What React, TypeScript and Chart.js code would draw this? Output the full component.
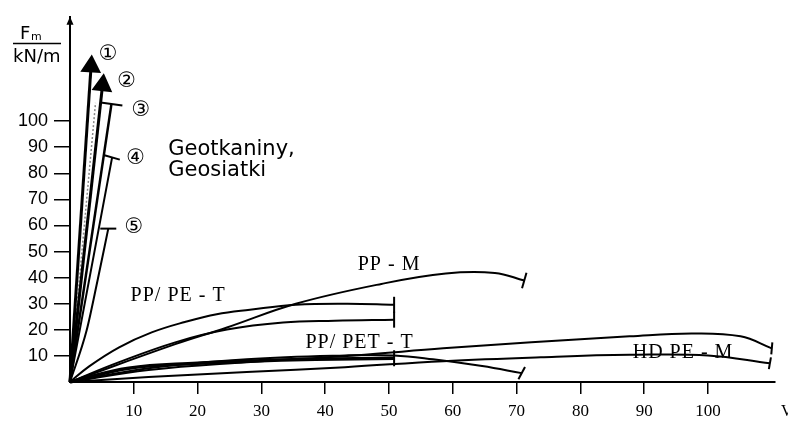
import React, { useEffect, useRef } from 'react';
import { Chart, registerables } from 'chart.js';

Chart.register(...registerables);

// ---- axis ticks ----
const xTickValues = [10, 20, 30, 40, 50, 60, 70, 80, 90, 100];
const yTickValues = [10, 20, 30, 40, 50, 60, 70, 80, 90, 100];
const X_MAX = 110.5;
const Y_MAX = 140;

// ---- geotextiles / geogrids (curves 1-5) ----
const geo1X = [0, 3.3];
const geo1Y = [0, 121];
const geo2X = [0, 5.1];
const geo2Y = [0, 113.8];
const geoDotX = [0, 4.0];
const geoDotY = [0, 107];
const geo3X = [0, 6.5];
const geo3Y = [0, 106.6];
const geo4X = [0, 6.6];
const geo4Y = [0, 86.1];
const geo5X = [0, 2.6, 4.3, 6.0];
const geo5Y = [0, 19.7, 38.7, 58.8];

// ---- PP/PE - T (two curves) ----
const ppPeTUpperX = [0, 3, 7.7, 12.8, 18, 23, 28.2, 35.4, 43.5, 50.8];
const ppPeTUpperY = [0, 6, 13.3, 19, 23, 26, 27.7, 29.6, 30, 29.6];
const ppPeTLowerX = [0, 7.7, 16.5, 24.6, 33.4, 41.5, 50.8];
const ppPeTLowerY = [0, 7.6, 15.2, 20.1, 22.8, 23.5, 23.9];

// ---- PP - M ----
const ppMX = [0, 16.5, 24.6, 35.4, 48.8, 58.9, 66.6, 71.2];
const ppMY = [0, 14.5, 20.9, 30, 37.6, 41.6, 41.8, 38.9];

// ---- PP/PET - T (two curves) ----
const ppPetT1X = [0, 9.2, 20, 27.7, 38.5, 50.8];
const ppPetT1Y = [0, 5.3, 7.2, 8, 8.7, 9.1];
const ppPetT2X = [0, 12.3, 27.7, 43.1, 50.8, 56.9, 64.6, 70.8];
const ppPetT2Y = [0, 5.3, 8.7, 10.2, 10.2, 8.7, 6.1, 3.4];

// ---- HD PE - M (two curves) ----
const hdpeUpperX = [0, 12.3, 27.7, 44.6, 58.5, 72.3, 87.7, 97.4, 105.1, 110];
const hdpeUpperY = [0, 4.6, 7.6, 10.2, 12.9, 15.2, 17.5, 18.6, 17.5, 12.9];
const hdpeLowerX = [0, 12.3, 27.7, 43.1, 58.5, 73.8, 87.7, 100, 109.7];
const hdpeLowerY = [0, 1.9, 3.8, 5.7, 8, 9.5, 10.4, 10.2, 7.2];

// ---- annotations ----
const circledLabels = ['①', '②', '③', '④', '⑤'];
const circledX = [6.0, 8.9, 11.1, 10.3, 10.0];
const circledY = [125.6, 115, 104.2, 85.7, 59.2];

const curveLabels = ['PP/ PE - T', 'PP - M', 'PP/ PET - T', 'HD PE - M'];
const curveLabelX = [9.5, 45.1, 36.9, 88.2];
const curveLabelY = [33, 44.8, 15.2, 11.4];

const groupLabels = ['Geotkaniny,', 'Geosiatki'];
const groupLabelX = [15.4, 15.4];
const groupLabelY = [89.2, 81.2];

const zip = (xs: number[], ys: number[]) => xs.map((x, i) => ({ x, y: ys[i] }));

type End = { style?: 'line' | 'triangle'; r?: number; rot?: number };

const series = (
  xs: number[],
  ys: number[],
  width: number,
  end: End,
  extra: any = {}
) => ({
  data: zip(xs, ys),
  borderColor: '#000',
  borderWidth: width,
  tension: xs.length > 2 ? 0.4 : 0,
  pointStyle: end.style || 'line',
  pointRotation: end.rot || 0,
  pointRadius: xs.map((_, i) => (i === xs.length - 1 && end.r ? end.r : 0)),
  pointBorderWidth: 2,
  pointBorderColor: '#000',
  pointBackgroundColor: '#000',
  pointHoverRadius: 0,
  clip: false,
  ...extra,
});

const decorPlugin = {
  id: 'decor',
  afterDraw(chart: any) {
    const { ctx, chartArea, scales } = chart;
    const xs = scales.x;
    const ys = scales.y;
    ctx.save();
    ctx.fillStyle = '#000';
    ctx.strokeStyle = '#000';

    // arrow on y axis
    ctx.beginPath();
    ctx.moveTo(chartArea.left, chartArea.top);
    ctx.lineTo(chartArea.left - 3.5, chartArea.top + 8);
    ctx.lineTo(chartArea.left + 3.5, chartArea.top + 8);
    ctx.closePath();
    ctx.fill();

    // axis title F_m / kN/m
    ctx.textAlign = 'left';
    ctx.textBaseline = 'alphabetic';
    ctx.font = '18px "DejaVu Sans"';
    ctx.fillText('F', 20, 39);
    ctx.font = '11px "DejaVu Sans"';
    ctx.fillText('m', 31, 40);
    ctx.beginPath();
    ctx.lineWidth = 1.5;
    ctx.moveTo(13, 43.5);
    ctx.lineTo(61, 43.5);
    ctx.stroke();
    ctx.font = '18px "DejaVu Sans"';
    ctx.fillText('kN/m', 13, 62);

    // x-axis unit (cut at right edge)
    ctx.font = '16px "Liberation Serif"';
    ctx.textBaseline = 'middle';
    ctx.fillText('V', 781, 412);

    // circled numbers
    ctx.font = '21px "DejaVu Sans"';
    ctx.textAlign = 'center';
    circledLabels.forEach((t, i) => {
      ctx.fillText(t, xs.getPixelForValue(circledX[i]), ys.getPixelForValue(circledY[i]));
    });

    // group label
    ctx.textAlign = 'left';
    ctx.font = '21px "DejaVu Sans"';
    groupLabels.forEach((t, i) => {
      ctx.fillText(t, xs.getPixelForValue(groupLabelX[i]), ys.getPixelForValue(groupLabelY[i]));
    });

    // curve labels
    ctx.font = '20px "Liberation Serif"';
    (ctx as any).letterSpacing = '1px';
    curveLabels.forEach((t, i) => {
      ctx.fillText(t, xs.getPixelForValue(curveLabelX[i]), ys.getPixelForValue(curveLabelY[i]));
    });
    ctx.restore();
  },
};

export default function App() {
  const ref = useRef<HTMLCanvasElement | null>(null);

  useEffect(() => {
    if (!ref.current) return;
    const chart = new Chart(ref.current, {
      type: 'line',
      data: {
        datasets: [
          series(geo1X, geo1Y, 3, { style: 'triangle', r: 10, rot: 3.5 }),
          series(geo2X, geo2Y, 3, { style: 'triangle', r: 10, rot: 6 }),
          series(geoDotX, geoDotY, 1.5, {}, { borderColor: '#888', borderDash: [2, 2] }),
          series(geo3X, geo3Y, 2.5, { r: 11, rot: 8 }),
          series(geo4X, geo4Y, 2, { r: 8, rot: 16 }),
          series(geo5X, geo5Y, 2, { r: 8, rot: 0 }, { tension: 0, cubicInterpolationMode: 'monotone' }),
          series(ppPeTUpperX, ppPeTUpperY, 2, { r: 8, rot: 90 }),
          series(ppPeTLowerX, ppPeTLowerY, 2, { r: 8, rot: 90 }),
          series(ppMX, ppMY, 2, { r: 8, rot: 106 }),
          series(ppPetT1X, ppPetT1Y, 3.5, { r: 8, rot: 90 }),
          series(ppPetT2X, ppPetT2Y, 2, { r: 7, rot: 118 }),
          series(hdpeUpperX, hdpeUpperY, 2, { r: 6, rot: 95 }),
          series(hdpeLowerX, hdpeLowerY, 2, { r: 6, rot: 100 }),
        ] as any,
      },
      options: {
        animation: false,
        responsive: false,
        maintainAspectRatio: false,
        events: [],
        layout: { padding: { top: 13, left: 0, right: 0, bottom: 0 } },
        plugins: {
          legend: { display: false },
          tooltip: { enabled: false },
        },
        scales: {
          x: {
            type: 'linear',
            min: 0,
            max: X_MAX,
            afterFit(s: any) {
              s.height = 44;
            },
            afterBuildTicks(s: any) {
              s.ticks = xTickValues.map((v) => ({ value: v }));
            },
            grid: {
              drawOnChartArea: false,
              drawTicks: true,
              tickLength: 12,
              color: '#000',
              lineWidth: 1.5,
            },
            border: { display: true, color: '#000', width: 2 },
            ticks: {
              color: '#000',
              padding: 7,
              maxRotation: 0,
              autoSkip: false,
              font: { family: '"Liberation Serif"', size: 17 },
            },
          },
          y: {
            type: 'linear',
            min: 0,
            max: Y_MAX,
            afterFit(s: any) {
              s.width = 70;
            },
            afterBuildTicks(s: any) {
              s.ticks = yTickValues.map((v) => ({ value: v }));
            },
            grid: {
              drawOnChartArea: false,
              drawTicks: true,
              tickLength: 16,
              color: '#000',
              lineWidth: 1.5,
            },
            border: { display: true, color: '#000', width: 2 },
            ticks: {
              color: '#000',
              padding: 6,
              autoSkip: false,
              font: { family: '"Liberation Sans"', size: 18 },
            },
          },
        },
      } as any,
      plugins: [decorPlugin],
    });
    return () => chart.destroy();
  }, []);

  return (
    <div style={{ position: 'absolute', left: 0, top: 0, width: 788, height: 426, background: '#fff' }}>
      <canvas ref={ref} width={788} height={426} style={{ display: 'block' }} />
    </div>
  );
}
